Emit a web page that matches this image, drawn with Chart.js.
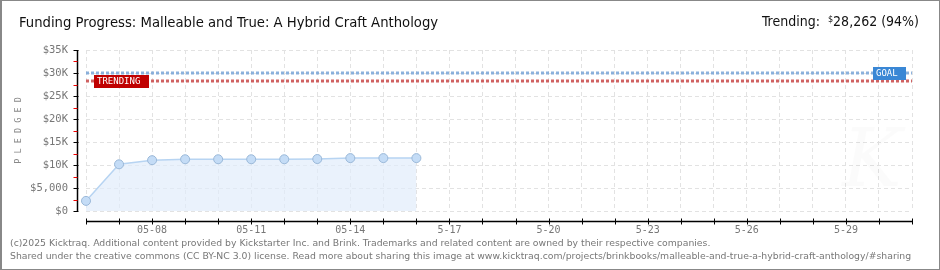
<!DOCTYPE html>
<html>
<head>
<meta charset="utf-8">
<script src="https://cdn.jsdelivr.net/npm/chart.js@4"></script>
<style>
  html, body { margin: 0; padding: 0; background: #fff; }
  #wrap { position: relative; width: 940px; height: 270px; box-sizing: border-box; border: 1px solid #888; border-left-width: 2px; overflow: hidden; }
  #chart { position: absolute; left: -2px; top: -1px; }
  .title { position: absolute; top: 12px; font-family: "DejaVu Sans Condensed", "DejaVu Sans", sans-serif; font-size: 14.7px; color: #111; white-space: nowrap; }
  #titleLeft { left: 17px; }
  #titleRight { right: 20px; font-size: 14px; }
  #titleRight sup { font-size: 9px; vertical-align: 4px; }
  .foot { position: absolute; left: 8px; font-family: "DejaVu Sans", Verdana, sans-serif; font-size: 9.3px; color: #777; white-space: nowrap; }
</style>
</head>
<body>
<div id="wrap">
  <canvas id="chart" width="940" height="270"></canvas>
  <div class="title" id="titleLeft">Funding Progress: Malleable and True: A Hybrid Craft Anthology</div>
  <div class="title" id="titleRight">Trending:&nbsp; <sup>$</sup>28,262 (94%)</div>
  <div class="foot" style="top:236px">(c)2025 Kicktraq. Additional content provided by Kickstarter Inc. and Brink. Trademarks and related content are owned by their respective companies.</div>
  <div class="foot" style="top:249px">Shared under the creative commons (CC BY-NC 3.0) license. Read more about sharing this image at www.kicktraq.com/projects/brinkbooks/malleable-and-true-a-hybrid-craft-anthology/#sharing</div>
</div>
<script>
// days of the campaign (x axis)
const days = ['05-06','05-07','05-08','05-09','05-10','05-11','05-12','05-13','05-14','05-15','05-16',
  '5-17','5-18','5-19','5-20','5-21','5-22','5-23','5-24','5-25','5-26','5-27','5-28','5-29','5-30','5-31'];
// pledged totals
const pledged = [2200, 10150, 11050, 11250, 11250, 11250, 11250, 11300, 11500, 11500, 11500];
const goal = 30000;
const trending = 28262;
const yTicks = [0, 5000, 10000, 15000, 20000, 25000, 30000, 35000];
const yTickLabels = ['$0', '$5,000', '$10K', '$15K', '$20K', '$25K', '$30K', '$35K'];

const pixFont = '"DejaVu Sans Mono", monospace';

const axisPlugin = {
  id: 'kickAxes',
  beforeDatasetsDraw(chart) {
    const { ctx } = chart;
    // faint watermark
    ctx.save();
    ctx.fillStyle = 'rgba(0,0,0,0.014)';
    ctx.font = 'italic 80px "DejaVu Serif", serif';
    ctx.textAlign = 'center';
    ctx.textBaseline = 'middle';
    ctx.fillText('K', 872, 165);
    ctx.restore();
  },
  afterDraw(chart) {
    const { ctx, chartArea, scales } = chart;
    const x = scales.x, y = scales.y;
    ctx.save();
    // y axis line, offset to the left of the plot
    const ax = Math.round(chartArea.left - 9) + 0.5;
    ctx.strokeStyle = '#000';
    ctx.lineWidth = 1.5;
    ctx.beginPath();
    ctx.moveTo(ax, y.getPixelForValue(35000));
    ctx.lineTo(ax, y.getPixelForValue(0));
    ctx.stroke();
    ctx.lineWidth = 1;
    yTicks.forEach(v => {
      const py = Math.round(y.getPixelForValue(v)) + 0.5;
      ctx.strokeStyle = '#000';
      ctx.beginPath(); ctx.moveTo(ax - 4, py); ctx.lineTo(ax + 1, py); ctx.stroke();
      if (v < 35000) {
        const pm = Math.round(y.getPixelForValue(v + 2500)) + 0.5;
        ctx.strokeStyle = '#e00';
        ctx.beginPath(); ctx.moveTo(ax - 4, pm); ctx.lineTo(ax, pm); ctx.stroke();
      }
    });
    // x axis line, offset below the plot
    const ay = Math.round(chartArea.bottom + 10) + 0.5;
    ctx.strokeStyle = '#000';
    ctx.lineWidth = 1.5;
    ctx.beginPath();
    ctx.moveTo(x.getPixelForValue(0), ay);
    ctx.lineTo(x.getPixelForValue(days.length - 1), ay);
    ctx.stroke();
    ctx.lineWidth = 1;
    days.forEach((d, i) => {
      const px = Math.round(x.getPixelForValue(i)) + 0.5;
      ctx.beginPath(); ctx.moveTo(px, ay - 3); ctx.lineTo(px, ay + 3); ctx.stroke();
    });
    // line tags
    function tag(text, bg, left, val, w) {
      const py = Math.round(y.getPixelForValue(val));
      ctx.fillStyle = bg;
      ctx.fillRect(left, py - 6, w, 13);
      ctx.fillStyle = '#fff';
      ctx.font = '9px ' + pixFont;
      ctx.textAlign = 'left';
      ctx.textBaseline = 'middle';
      ctx.fillText(text, left + 3, py + 1);
    }
    tag('TRENDING', '#c00000', chartArea.left + 8, trending, 55);
    tag('GOAL', '#3a87d5', chartArea.right - 39, goal, 33);
    ctx.restore();
  }
};

new Chart(document.getElementById('chart'), {
  type: 'line',
  data: {
    labels: days,
    datasets: [
      {
        label: 'Pledged',
        data: pledged,
        borderColor: '#b7d4f2',
        borderWidth: 1.5,
        backgroundColor: 'rgba(225,237,251,0.7)',
        fill: 'origin',
        pointRadius: 4.5,
        pointBackgroundColor: '#c4dcf6',
        pointBorderColor: '#9ab8d8',
        pointBorderWidth: 1,
        tension: 0
      },
      {
        label: 'Goal',
        data: days.map(() => goal),
        borderColor: 'rgba(120,165,215,0.85)',
        borderWidth: 3,
        borderDash: [3, 2],
        pointRadius: 0,
        fill: false
      },
      {
        label: 'Trending',
        data: days.map(() => trending),
        borderColor: 'rgba(200,70,70,0.85)',
        borderWidth: 3,
        borderDash: [3, 2],
        pointRadius: 0,
        fill: false
      }
    ]
  },
  plugins: [axisPlugin],
  options: {
    responsive: false,
    animation: false,
    layout: { padding: { left: 0, top: 50, right: 28, bottom: 0 } },
    plugins: { legend: { display: false }, tooltip: { enabled: false } },
    scales: {
      x: {
        afterFit: s => { s.height = 59; },
        grid: { color: '#e2e2e2', lineWidth: 1, drawTicks: false },
        border: { display: false, dash: [4, 3] },
        ticks: {
          autoSkip: false,
          maxRotation: 0,
          padding: 13,
          color: '#777',
          font: { family: pixFont, size: 10 },
          callback: (v, i) => (i % 3 === 2 ? days[i] : '')
        }
      },
      y: {
        min: 0,
        max: 35000,
        afterFit: s => { s.width = 86; },
        afterBuildTicks: s => { s.ticks = yTicks.map(v => ({ value: v })); },
        grid: { color: '#e2e2e2', lineWidth: 1, drawTicks: false },
        border: { display: false, dash: [4, 3] },
        ticks: {
          padding: 18,
          color: '#777',
          font: { family: pixFont, size: 10.5 },
          callback: v => yTickLabels[yTicks.indexOf(v)]
        },
        title: {
          display: true,
          text: 'P L E D G E D',
          color: '#888',
          font: { family: pixFont, size: 8.5 },
          padding: { top: 14, bottom: 0 }
        }
      }
    }
  }
});
</script>
</body>
</html>
